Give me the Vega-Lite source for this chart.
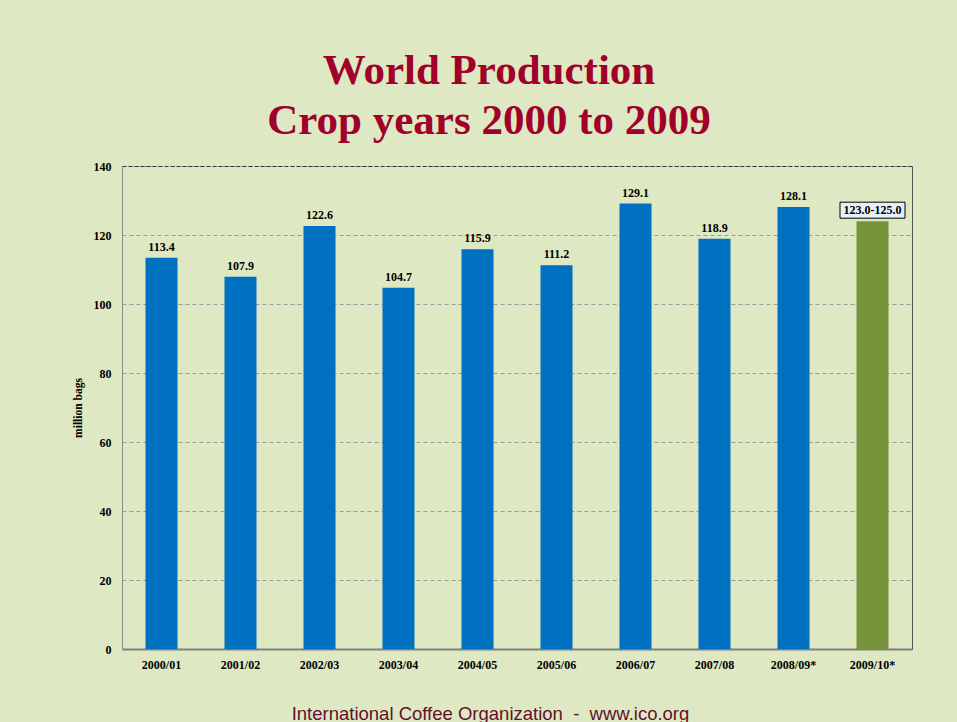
{
  "$schema": "https://vega.github.io/schema/vega-lite/v6.json",
  "width": 790,
  "height": 483,
  "autosize": {"type": "none"},
  "padding": {"left": 122, "top": 166, "right": 45, "bottom": 73},
  "background": "#DEE8C2",
  "title": {
    "text": ["World Production", "Crop years 2000 to 2009"],
    "font": "Liberation Serif",
    "fontSize": 43,
    "fontWeight": "bold",
    "color": "#A0002A",
    "anchor": "middle",
    "dx": -28,
    "dy": 50,
    "lineHeight": 50,
    "baseline": "alphabetic",
    "offset": 33
  },
  "data": {
    "values": [
      {"year": "2000/01", "value": 113.4, "label": "113.4", "type": "actual"},
      {"year": "2001/02", "value": 107.9, "label": "107.9", "type": "actual"},
      {"year": "2002/03", "value": 122.6, "label": "122.6", "type": "actual"},
      {"year": "2003/04", "value": 104.7, "label": "104.7", "type": "actual"},
      {"year": "2004/05", "value": 115.9, "label": "115.9", "type": "actual"},
      {"year": "2005/06", "value": 111.2, "label": "111.2", "type": "actual"},
      {"year": "2006/07", "value": 129.1, "label": "129.1", "type": "actual"},
      {"year": "2007/08", "value": 118.9, "label": "118.9", "type": "actual"},
      {"year": "2008/09*", "value": 128.1, "label": "128.1", "type": "actual"},
      {"year": "2009/10*", "value": 124.0, "label": "123.0-125.0", "type": "forecast"}
    ]
  },
  "encoding": {
    "x": {
      "field": "year",
      "type": "nominal",
      "sort": null,
      "scale": {"paddingInner": 0.595, "paddingOuter": 0.2975},
      "axis": {
        "title": "International Coffee Organization \u00a0-\u00a0 www.ico.org",
        "titleFont": "Liberation Sans",
        "titleFontSize": 18.5,
        "titleFontWeight": "normal",
        "titleColor": "#62102F",
        "titleX": 368,
        "titleY": 70,
        "titleBaseline": "alphabetic",
        "labelAngle": 0,
        "labelFont": "Liberation Serif",
        "labelFontSize": 12,
        "labelFontWeight": "bold",
        "labelColor": "#000000",
        "labelPadding": 10,
        "ticks": false,
        "domainColor": "#808080",
        "domainWidth": 2
      }
    }
  },
  "layer": [
    {
      "layer": [
        {
          "mark": {"type": "bar"},
          "encoding": {
            "y": {
              "field": "value",
              "type": "quantitative",
              "scale": {"domain": [0, 140], "nice": false},
              "axis": {
                "title": "million bags",
                "titleFont": "Liberation Serif",
                "titleFontSize": 11.5,
                "titleFontWeight": "bold",
                "titleColor": "#000000",
                "titlePadding": 10,
                "values": [0, 20, 40, 60, 80, 100, 120, 140],
                "labelFont": "Liberation Serif",
                "labelFontSize": 12,
                "labelFontWeight": "bold",
                "labelColor": "#000000",
                "labelPadding": 11,
                "ticks": false,
                "domainColor": "#8A8A8A",
                "grid": true,
                "gridColor": "#9A9A9A",
                "gridDash": [4, 3],
                "gridWidth": 1
              }
            },
            "color": {
              "field": "type",
              "type": "nominal",
              "scale": {"domain": ["actual", "forecast"], "range": ["#0070C0", "#77933C"]},
              "legend": null
            }
          }
        },
        {
          "transform": [{"filter": "datum.type == 'actual'"}],
          "mark": {"type": "text", "font": "Liberation Serif", "fontSize": 12, "fontWeight": "bold", "color": "#000000", "baseline": "alphabetic", "dy": -7},
          "encoding": {
            "y": {"field": "value", "type": "quantitative"},
            "text": {"field": "label"}
          }
        },
        {
          "transform": [{"filter": "datum.type == 'forecast'"}],
          "mark": {"type": "bar", "width": 65, "fill": "#E6F0F8", "stroke": "#000000", "strokeWidth": 1, "yOffset": -3, "y2Offset": -19},
          "encoding": {
            "y": {"field": "value", "type": "quantitative"},
            "y2": {"field": "value"}
          }
        },
        {
          "transform": [{"filter": "datum.type == 'forecast'"}],
          "mark": {"type": "text", "font": "Liberation Serif", "fontSize": 12, "fontWeight": "bold", "color": "#000000", "baseline": "alphabetic", "dy": -7},
          "encoding": {
            "y": {"field": "value", "type": "quantitative"},
            "text": {"field": "label"}
          }
        }
      ]
    },
    {
      "transform": [{"filter": "datum.type == 'forecast'"}],
      "mark": {"type": "point", "opacity": 0},
      "encoding": {
        "y": {
          "field": "value",
          "type": "quantitative",
          "scale": {"domain": [0, 140], "nice": false},
          "axis": {
            "orient": "right",
            "title": null,
            "labels": false,
            "ticks": false,
            "domainColor": "#555555",
            "grid": true,
            "values": [140],
            "gridColor": "#333333",
            "gridDash": [4, 2],
            "gridWidth": 1
          }
        }
      }
    }
  ],
  "resolve": {"scale": {"y": "independent"}},
  "config": {
    "view": {"stroke": null}
  }
}
